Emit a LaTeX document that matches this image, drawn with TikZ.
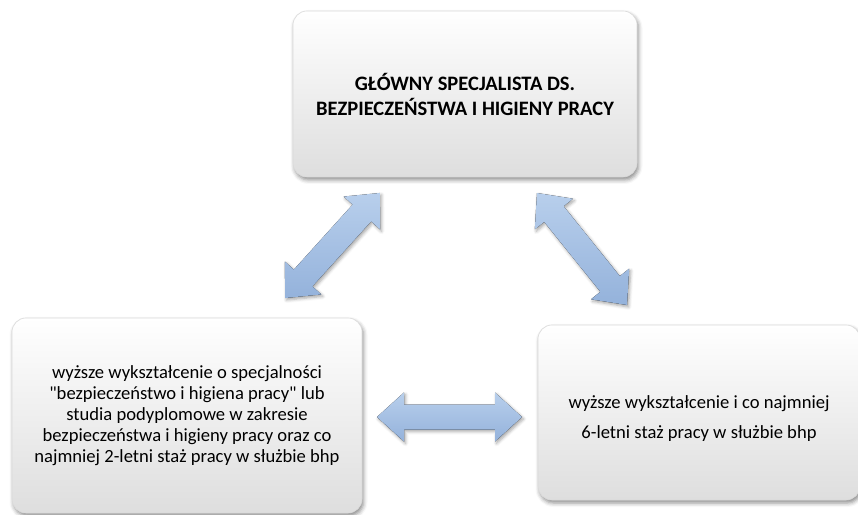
\documentclass[tikz,border=0pt]{standalone}
\usepackage{fontspec}
\setmainfont{Carlito}
\usetikzlibrary{shadows.blur}

\definecolor{linktop}{RGB}{184,207,236}
\definecolor{linkbot}{RGB}{148,178,219}
\definecolor{cardedge}{RGB}{218,218,218}

% block double arrow: centre x, centre y, angle, tip-to-tip length, name
\newcommand\twowayarrow[5]{%
  \begin{scope}[shift={(#1,#2)}, rotate=#3]
    \pgfmathsetmacro\hl{#4/2}
    \fill[link]
      (-\hl,0) -- (-\hl+27,24.5) -- (-\hl+27,12.5) -- (\hl-27,12.5)
      -- (\hl-27,24.5) -- (\hl,0) -- (\hl-27,-24.5) -- (\hl-27,-12.5)
      -- (-\hl+27,-12.5) -- (-\hl+27,-24.5) -- cycle;
    \coordinate (#5) at (0,0);
  \end{scope}}

\begin{document}
\begin{tikzpicture}[x=1pt,y=1pt]
\useasboundingbox (0,0) rectangle (858,514);
\tikzset{
  card/.style={rounded corners=14pt, draw=cardedge, line width=0.6pt,
    top color=white, bottom color=black!13, inner sep=0pt, align=center,
    blur shadow={shadow xshift=1.5pt, shadow yshift=-3pt,
      shadow blur radius=4pt, shadow opacity=45}},
  bodytext/.style={font=\fontsize{18.6}{21}\selectfont},
  link/.style={top color=linktop, bottom color=linkbot,
    blur shadow={shadow xshift=1.5pt, shadow yshift=-2pt,
      shadow blur radius=3pt, shadow opacity=35}}
}

% the three boxes
\node[card, minimum width=344pt, minimum height=166pt,
      font=\fontsize{20.5}{25}\selectfont\bfseries] (chief) at (465,420)
  {GŁÓWNY SPECJALISTA DS.\\BEZPIECZEŃSTWA I HIGIENY PRACY};

\node[card, bodytext, minimum width=350pt, minimum height=195pt] (degree) at (187,98.5)
  {wyższe wykształcenie o specjalności\\
   \textquotedbl bezpieczeństwo i higiena pracy\textquotedbl{} lub\\
   studia podyplomowe w zakresie\\
   bezpieczeństwa i higieny pracy oraz co\\
   najmniej 2-letni staż pracy w służbie bhp};

\node[card, minimum width=322pt, minimum height=175pt,
      label={[font=\fontsize{18.6}{30}\selectfont, align=center, yshift=-6pt]center:
        wyższe wykształcenie i co najmniej\\6-letni staż pracy w służbie bhp}]
  (senior) at (699,101.5) {};

% double arrows between the boxes
\twowayarrow{332.5}{268.5}{47.9}{141.6}{chief-degree}
\twowayarrow{582}{265}{-51.2}{143.7}{chief-senior}
\twowayarrow{449.5}{97}{0}{145}{degree-senior}
\end{tikzpicture}
\end{document}
